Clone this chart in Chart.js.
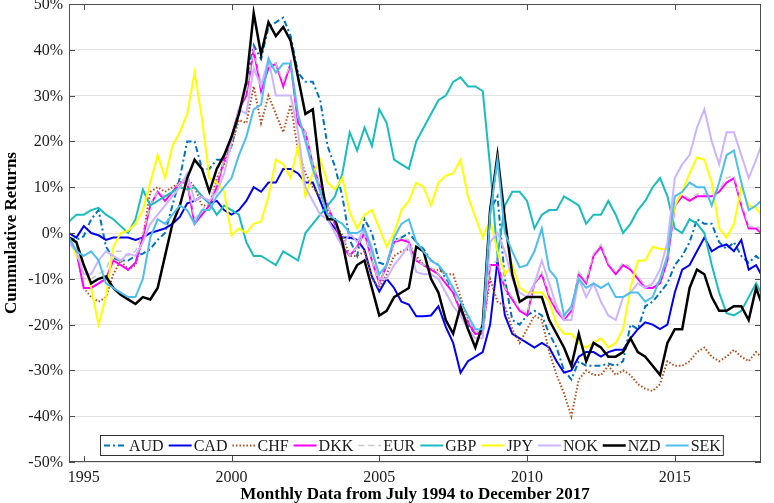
<!DOCTYPE html>
<html>
<head>
<meta charset="utf-8">
<script src="https://cdn.jsdelivr.net/npm/chart.js@4.4.1/dist/chart.umd.min.js"></script>
<style>
html, body { margin: 0; padding: 0; background: #fff; }
#wrap { position: relative; width: 774px; height: 503px; overflow: hidden; }
#wrap canvas { position: absolute; left: 0; top: 0; }
.lab {
  position: absolute;
  font-family: "Times New Roman", "Liberation Serif", serif;
  color: #1a1a1a;
  white-space: nowrap;
  line-height: 1;
}
</style>
</head>
<body>
<div id="wrap">
  <canvas id="chart" width="774" height="503"></canvas>
  <div id="ticks"></div>
  <div id="legend"></div>
</div>
<script>
// quarterly readings, July 1994 .. December 2017
var dates = [
  '1994-07','1994-10',
  '1995-01','1995-04','1995-07','1995-10',
  '1996-01','1996-04','1996-07','1996-10',
  '1997-01','1997-04','1997-07','1997-10',
  '1998-01','1998-04','1998-07','1998-10',
  '1999-01','1999-04','1999-07','1999-10',
  '2000-01','2000-04','2000-07','2000-10',
  '2001-01','2001-04','2001-07','2001-10',
  '2002-01','2002-04','2002-07','2002-10',
  '2003-01','2003-04','2003-07','2003-10',
  '2004-01','2004-04','2004-07','2004-10',
  '2005-01','2005-04','2005-07','2005-10',
  '2006-01','2006-04','2006-07','2006-10',
  '2007-01','2007-04','2007-07','2007-10',
  '2008-01','2008-04','2008-07','2008-10',
  '2009-01','2009-04','2009-07','2009-10',
  '2010-01','2010-04','2010-07','2010-10',
  '2011-01','2011-04','2011-07','2011-10',
  '2012-01','2012-04','2012-07','2012-10',
  '2013-01','2013-04','2013-07','2013-10',
  '2014-01','2014-04','2014-07','2014-10',
  '2015-01','2015-04','2015-07','2015-10',
  '2016-01','2016-04','2016-07','2016-10',
  '2017-01','2017-04','2017-07','2017-10',
  '2017-12'
];

var currencies = ['AUD', 'CAD', 'CHF', 'DKK', 'EUR', 'GBP', 'JPY', 'NOK', 'NZD', 'SEK'];

var aud = [-1, -1.5,
  -0.7, 3, 5, -3,   -5.5, -6, -6, -5,   -4.5, -3.5, -1.5, 0,   6, 12, 20, 20,
  14, 14, 16, 16,   19, 26, 33, 41,   38, 45, 46, 47,   43, 35, 33, 33,
  29, 19, 14.5, 8,   -1.5, -5, 3, 0,   -6.5, -7, -1.5, -1,   0, -2, -3.5, -6,
  -7, -10, -13, -17,   -20, -22, -21, 5,   8, -10, -19, -20,   -18, -17, -18, -22,
  -25, -30, -32, -28,   -29, -29, -29, -28.5,   -29, -28, -20, -21,   -16, -15, -13, -11,
  -7, -5, -2, 3,   2, 2, -2, -3.5,   -2, -5, -6.5, -5,
  -6];
var cad = [0, -1,
  1.5, 0, -0.5, -1.5,   -1, -1, -1, -1.5,   -1, 0, 0.5, 1,   2, 3.5, 6.5, 7,
  8, 6.5, 7, 5,   4, 5, 7, 10,   9, 11, 11, 14,   14, 13, 11, 11,
  7, 3, 1, -1,   -1, -1.5, -3.7, -9.5,   -12.8, -10, -12, -15,   -15.6, -18.2, -18.2, -18,
  -16, -20.5, -24, -30.5,   -28, -27, -26, -20,   -6, -18, -22, -23,   -24, -25, -24, -25,
  -28, -30.5, -30, -27,   -26, -26, -27, -26,   -25.5, -25.5, -23, -21,   -19.5, -20, -21, -20,
  -13, -8, -7, -4,   -1, -4, -3, -2.5,   -4, -1.5, -8, -7,
  -9];
var chf = [-1, -4,
  -12, -14, -15, -14,   -9, -6, -8, -7,   -1, 9, 10, 9,   10, 11, 12, 10,
  6, 6, 12, 15,   19, 24.7, 24, 32,   24, 30, 26, 22,   28, 18, 13, 10,
  8, 5, 2, -0.5,   -5, -5, -4, -10,   -12, -9, -5, -4,   -3.5, -5, -7, -8,
  -8, -9, -9, -14,   -19, -22, -21, -10,   -15, -16, -21, -24,   -21, -18, -19, -26,
  -31, -35, -40, -32,   -30, -31, -31, -29,   -31, -30, -31, -33,   -34, -34.5, -33, -28,
  -29, -29, -28, -26,   -25, -27, -28, -27,   -25.5, -27, -28, -26,
  -27];
var dkk = [-2, -4,
  -12, -12, -11, -10,   -6, -7, -8, -6.5,   -1, 6, 9, 7,   9, 11, 11, 2,
  4, 6, 10, 16,   21, 27, 30, 40,   31, 36, 37, 32,   37, 24, 22, 15,
  10, 6, 2, -3,   -5, -3, 0, -6,   -11, -7, -2, -1.5,   -2, -6, -7, -8,
  -9, -11, -13, -17,   -19.5, -22, -22, -7,   -7, -12, -14.5, -17,   -18, -11, -9, -14,
  -17, -19, -17, -9,   -11, -5, -3, -7,   -9, -7, -8, -10,   -12, -12, -11, -6,
  6, 8, 7, 8,   8, 8, 9, 11,   12, 6, 1, 1,
  0];
var eur = [-1.5, -3,
  -10, -10, -9, -8,   -4, -4, -5, -4,   0, 6, 9, 8,   9, 11, 11, 3,
  5, 7, 11, 16,   21, 27, 31, 40,   33, 37, 37, 33,   37, 25, 22, 15,
  10, 6, 2, -2,   -5, -3, 0, -6,   -11, -7, -2, -1,   -1.5, -6, -7, -7.5,
  -9, -10.5, -12.5, -16.5,   -19, -21.5, -21.5, -7,   -6, -12, -14, -16.5,   -17.5, -11, -8.5, -13.5,
  -16.5, -18.5, -16.5, -8.5,   -10.5, -4.5, -2.5, -6.5,   -8.5, -6.5, -7.5, -9.5,   -11.5, -11.5, -10.5, -5.5,
  6.5, 8.5, 7.5, 8.5,   8.5, 8.5, 9.5, 12,   12.5, 6.5, 1.5, 1.5,
  1];
var gbp = [2.5, 4,
  4, 5, 5.5, 4,   3, 1.5, 0, 3,   9.5, 6, 7, 8,   9, 10, 9.5, 10,
  8, 6.5, 4, 6,   5, 4, -2, -5,   -5, -6, -7, -4,   -5, -6, 0, 2,
  4, 6, 8, 13,   22, 18, 23, 19,   27, 24, 16, 15,   14, 20, 23, 26,
  29, 30, 33, 34,   32, 32, 31, 14.5,   -5, 6, 9, 9,   7, 1, 4, 5,
  5, 8, 7, 6,   2, 4, 4, 7,   4, 0, 2, 5,   7, 10, 12, 8,
  1, 0, 3, 2,   0, -7, -13, -17.5,   -18, -17, -14, -11,
  -13];
var jpy = [-1, -5,
  -7, -12, -20, -14,   -3, 0, 0.5, 2,   5, 11, 17, 12,   19, 22, 26, 35,
  25, 12, 11, 9,   -0.5, 1, 0, 2,   2.5, 8, 16, 15,   12, 19, 8, 13,
  16, 11, 9.5, 12,   4.5, 1, 4, 5,   1, -3, 0, 5,   7, 11, 10, 6,
  11, 12.5, 13, 16,   8, 3.5, -1, 3,   -4, -9, -7, -12,   -13, -13, -13, -15,
  -20, -22, -22, -24,   -25, -24, -23, -25,   -24, -21, -12, -6,   -6, -3, -3.5, -3.5,
  6, 9, 13, 16.5,   16, 11, 1, -1,   2, 10, 6, 5.5,
  4];
var nok = [-2, -4,
  -9, -9, -6, -4,   -5, -6, -4.5, -5,   -2, 2, 4, 6,   8, 10, 13, 7,
  8, 7, 9, 13,   20, 27, 26, 36,   32, 38, 30, 30,   30, 22, 10, 7,
  4, 3, 0, -3,   0, -2, 1, -3,   -10, -10, -7, -5,   -2.5, -8.5, -9, -9,
  -10, -13, -16, -18,   -21, -23, -23, -2,   0, -4, -10, -13,   -14, -11, -6, -11,
  -16, -19, -19, -10,   -14, -11, -15, -18,   -19, -14, -13, -11,   -12, -11, -8, -2,
  12, 15, 17, 23,   27, 20, 15, 22,   22, 17, 12, 16,
  19];
var nzd = [-1, -2,
  -7, -11, -10, -9.5,   -12, -13.5, -14.5, -15.5,   -14, -14.5, -12, -5,   2, 6, 12, 16,
  14, 9, 14, 17,   21, 26, 33, 48,   39, 46, 43, 45,   42, 34, 26, 27,
  13, 3, 3, -2,   -10, -7, -6, -12,   -18, -17, -14, -13,   -12, -3, -4, -10,
  -13, -19, -22, -16,   -21, -25, -20, 5,   17, 3, -9, -15,   -14, -14, -14, -19,
  -22, -25, -29, -22,   -28, -24, -25, -27,   -27, -26, -23, -26,   -27, -29, -31, -24,
  -21, -21, -12, -8,   -9, -14, -17, -17,   -16, -16, -19, -12,
  -15];
var sek = [-1, -4,
  -5, -4, -6, -11,   -12, -13, -14, -14,   -10, -1, 3, 2,   4, 6, 5, 2,
  5, 5, 8, 10,   12, 17, 21, 27,   28, 38, 35, 37,   37, 26, 20, 14,
  9, 4, 3, 2,   0, 0, 1, -4,   -9, -7, -1, 2,   3, -2, -4, -6,
  -7, -9, -12, -15,   -18, -21, -21, 4,   16, 0, -4, -7.5,   -7, -4, 1, -8,
  -10, -18, -16, -10,   -12, -11, -12, -11,   -14, -14, -13, -13,   -15, -14, -10, -5,
  8, 9, 11, 10,   10, 6, 11, 17,   18, 11, 5, 6,
  7];

var yearTicks = [1995, 2000, 2005, 2010, 2015];

var series = [aud, cad, chf, dkk, eur, gbp, jpy, nok, nzd, sek];
var colors = ['#0072BD', '#0000EE', '#B0501E', '#FF00FF', '#C8C8C8', '#1ABCBC', '#FFFF00', '#CDB4FF', '#000000', '#4DBEEE'];
var dashes = [[6, 3, 2, 3], [], [1.5, 2], [], [6, 4], [], [], [], [], []];
var widths = [2, 2, 2, 2, 1.5, 2, 2, 2, 2.5, 2];

function toYear(s) {
  var p = s.split('-');
  return +p[0] + (p[1] - 1) / 12;
}

var serifBold = '"Liberation Serif", "Times New Roman", serif';

function addLabel(holder, text, size) {
  var el = document.createElement('span');
  el.className = 'lab';
  el.textContent = text;
  el.style.fontSize = size + 'px';
  holder.appendChild(el);
  return el;
}

// legend labels first, so the line samples can sit around their measured widths
var legendHolder = document.getElementById('legend');
var legendX = [];
var lx = 104;
currencies.forEach(function (c) {
  var el = addLabel(legendHolder, c, 16);
  el.style.top = '435px';
  el.style.lineHeight = '21px';
  var w = el.getBoundingClientRect().width;
  legendX.push(lx);
  el.style.left = (lx + 25) + 'px';
  lx += 25 + w + 5;
});
var legendRight = lx - 3;

function placeTicks(chart) {
  var holder = document.getElementById('ticks');
  holder.innerHTML = '';
  var a = chart.chartArea, xs = chart.scales.x, ys = chart.scales.y;
  yearTicks.forEach(function (t) {
    var el = addLabel(holder, String(t), 16);
    el.style.left = xs.getPixelForValue(t) + 'px';
    el.style.top = (a.bottom + 7) + 'px';
    el.style.transform = 'translateX(-50%)';
  });
  ys.ticks.forEach(function (t) {
    var el = addLabel(holder, t.value + '%', 16);
    el.style.right = (774 - a.left + 6) + 'px';
    el.style.top = ys.getPixelForValue(t.value) + 'px';
    el.style.transform = 'translateY(-50%)';
  });
}

var datasets = currencies.map(function (c, i) {
  return {
    label: c,
    data: series[i].map(function (v, j) { return {x: toYear(dates[j]), y: v}; }),
    borderColor: colors[i],
    backgroundColor: colors[i],
    borderDash: dashes[i],
    borderWidth: widths[i],
    pointRadius: 0,
    fill: false,
    tension: 0,
    order: 10 - i
  };
});

// box, inward tick marks and the legend frame with its line samples
var framePlugin = {
  id: 'frame',
  afterDraw: function (chart) {
    var a = chart.chartArea, ctx = chart.ctx;
    var xs = chart.scales.x, ys = chart.scales.y;
    ctx.save();
    ctx.strokeStyle = '#4d4d4d';
    ctx.lineWidth = 1;
    ctx.setLineDash([]);
    ctx.strokeRect(a.left + 0.5, a.top + 0.5, a.right - a.left - 1, a.bottom - a.top - 1);
    ctx.beginPath();
    yearTicks.forEach(function (t) {
      var px = Math.round(xs.getPixelForValue(t)) + 0.5;
      ctx.moveTo(px, a.bottom); ctx.lineTo(px, a.bottom - 6);
      ctx.moveTo(px, a.top); ctx.lineTo(px, a.top + 6);
    });
    ys.ticks.forEach(function (t) {
      var py = Math.round(ys.getPixelForValue(t.value)) + 0.5;
      ctx.moveTo(a.left, py); ctx.lineTo(a.left + 6, py);
      ctx.moveTo(a.right, py); ctx.lineTo(a.right - 6, py);
    });
    ctx.stroke();

    var bx = 100, by = 435, bh = 20, bw = legendRight - bx;
    ctx.fillStyle = '#fff';
    ctx.fillRect(bx, by, bw, bh);
    ctx.strokeStyle = '#333';
    ctx.strokeRect(bx + 0.5, by + 0.5, bw, bh);
    var cy = by + bh / 2 + 0.5;
    chart.data.datasets.forEach(function (ds, i) {
      ctx.beginPath();
      ctx.strokeStyle = ds.borderColor;
      ctx.lineWidth = ds.borderWidth;
      ctx.setLineDash(ds.borderDash);
      ctx.moveTo(legendX[i], cy);
      ctx.lineTo(legendX[i] + 23, cy);
      ctx.stroke();
    });
    ctx.restore();
    placeTicks(chart);
  }
};

var chart = new Chart(document.getElementById('chart'), {
  type: 'line',
  data: {datasets: datasets},
  options: {
    responsive: false,
    animation: false,
    devicePixelRatio: 1,
    layout: {padding: {top: 4, right: 13, left: 0, bottom: 0}},
    plugins: {legend: {display: false}, tooltip: {enabled: false}},
    scales: {
      x: {
        type: 'linear',
        min: 1994.5,
        max: 2017 + 11 / 12,
        afterBuildTicks: function (s) {
          s.ticks = yearTicks.map(function (v) { return {value: v}; });
        },
        afterFit: function (s) { s.height = 41; s.paddingLeft = 0; s.paddingRight = 0; },
        grid: {display: false, drawTicks: false},
        border: {display: false},
        ticks: {display: false},
        title: {
          display: true,
          text: 'Monthly Data from July 1994 to December 2017',
          color: '#000',
          font: {family: serifBold, size: 17, weight: 'bold', lineHeight: 1},
          padding: {top: 0, bottom: 0}
        }
      },
      y: {
        min: -50,
        max: 50,
        afterFit: function (s) { s.width = 69; s.paddingTop = 0; s.paddingBottom = 0; },
        grid: {color: '#e3e3e3', drawTicks: false, lineWidth: 1},
        border: {display: false},
        ticks: {display: false, stepSize: 10},
        title: {
          display: true,
          text: 'Cummulative Returns',
          color: '#000',
          font: {family: serifBold, size: 17, weight: 'bold', lineHeight: 1.2},
          padding: {top: 1, bottom: 0}
        }
      }
    }
  },
  plugins: [framePlugin]
});
</script>
</body>
</html>
